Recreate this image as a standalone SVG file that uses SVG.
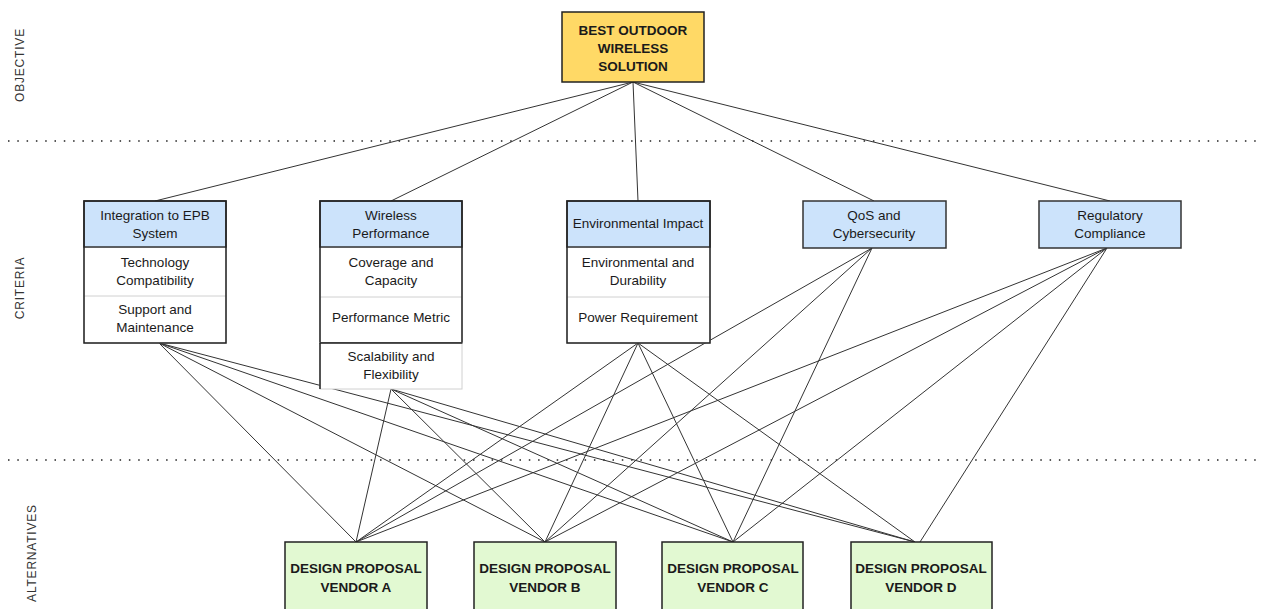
<svg xmlns="http://www.w3.org/2000/svg" width="1263" height="609" viewBox="0 0 1263 609">
<style>
text{font-family:"Liberation Sans",Arial,sans-serif;fill:#1a1a1a;text-anchor:middle}
.c{font-size:13.5px}
.b{font-size:13.5px;font-weight:bold}
.side{font-size:12px;fill:#333;letter-spacing:0.8px}
.sep{stroke:#222;stroke-width:1.3;stroke-dasharray:1.5 7.8;fill:none}
.ln{stroke:#333;stroke-width:1;fill:none}
.obj{fill:#ffd966;stroke:#222;stroke-width:1.5}
.hdr{fill:#cce3fb;stroke:#333;stroke-width:1.5}
.row{fill:#fff;stroke:#d0d0d0;stroke-width:1}
.out{fill:none;stroke:#222;stroke-width:1.5}
.alt{fill:#e2f9d2;stroke:#222;stroke-width:1.5}
</style>
<rect width="1263" height="609" fill="#fff"/>
<g id="separators">
<line class="sep" x1="8" y1="141" x2="1263" y2="141"/>
<line class="sep" x1="8" y1="460" x2="1263" y2="460"/>
</g>
<g id="labels">
<text class="side" transform="translate(24,65) rotate(-90)">OBJECTIVE</text>
<text class="side" transform="translate(24,288) rotate(-90)">CRITERIA</text>
<text class="side" transform="translate(36,553) rotate(-90)">ALTERNATIVES</text>
</g>
<g id="connectors">
<line class="ln" x1="633" y1="82" x2="155" y2="201"/>
<line class="ln" x1="633" y1="82" x2="391" y2="201"/>
<line class="ln" x1="633" y1="82" x2="638" y2="201"/>
<line class="ln" x1="633" y1="82" x2="874" y2="201"/>
<line class="ln" x1="633" y1="82" x2="1110" y2="201"/>
<line class="ln" x1="159" y1="343" x2="356" y2="542"/>
<line class="ln" x1="159" y1="343" x2="545" y2="542"/>
<line class="ln" x1="159" y1="343" x2="733" y2="542"/>
<line class="ln" x1="159" y1="343" x2="915" y2="542"/>
<line class="ln" x1="391" y1="389" x2="356" y2="542"/>
<line class="ln" x1="391" y1="389" x2="545" y2="542"/>
<line class="ln" x1="391" y1="389" x2="733" y2="542"/>
<line class="ln" x1="391" y1="389" x2="915" y2="542"/>
<line class="ln" x1="638" y1="343" x2="356" y2="542"/>
<line class="ln" x1="638" y1="343" x2="545" y2="542"/>
<line class="ln" x1="638" y1="343" x2="733" y2="542"/>
<line class="ln" x1="638" y1="343" x2="915" y2="542"/>
<line class="ln" x1="872" y1="248" x2="356" y2="542"/>
<line class="ln" x1="872" y1="248" x2="545" y2="542"/>
<line class="ln" x1="872" y1="248" x2="733" y2="542"/>
<line class="ln" x1="1107" y1="248" x2="356" y2="542"/>
<line class="ln" x1="1107" y1="248" x2="545" y2="542"/>
<line class="ln" x1="1107" y1="248" x2="733" y2="542"/>
<line class="ln" x1="1107" y1="248" x2="920" y2="542"/>
</g>
<g id="objective">
<rect class="obj" x="562" y="12" width="142" height="70"/>
<text class="b" x="633" y="35">BEST OUTDOOR</text>
<text class="b" x="633" y="53">WIRELESS</text>
<text class="b" x="633" y="71">SOLUTION</text>
</g>
<g id="crit-integration">
<rect class="row" x="84" y="247" width="142" height="96"/>
<line class="row" x1="84" y1="296" x2="226" y2="296"/>
<rect class="hdr" x="84" y="201" width="142" height="46"/>
<rect class="out" x="84" y="201" width="142" height="142"/>
<text class="c" x="155" y="220">Integration to EPB</text>
<text class="c" x="155" y="238">System</text>
<text class="c" x="155" y="267">Technology</text>
<text class="c" x="155" y="285">Compatibility</text>
<text class="c" x="155" y="314">Support and</text>
<text class="c" x="155" y="332">Maintenance</text>
</g>
<g id="crit-wireless">
<rect class="row" x="320" y="247" width="142" height="96"/>
<line class="row" x1="320" y1="297" x2="462" y2="297"/>
<rect class="hdr" x="320" y="201" width="142" height="46"/>
<rect class="out" x="320" y="201" width="142" height="142"/>
<text class="c" x="391" y="220">Wireless</text>
<text class="c" x="391" y="238">Performance</text>
<text class="c" x="391" y="267">Coverage and</text>
<text class="c" x="391" y="285">Capacity</text>
<text class="c" x="391" y="322">Performance Metric</text>
</g>
<g id="crit-scalability">
<rect class="row" x="320" y="343" width="142" height="46"/>
<line x1="320" y1="343" x2="320" y2="389" stroke="#222" stroke-width="1.5"/>
<line x1="320" y1="343" x2="462" y2="343" stroke="#222" stroke-width="1.5"/>
<text class="c" x="391" y="361">Scalability and</text>
<text class="c" x="391" y="379">Flexibility</text>
</g>
<g id="crit-environmental">
<rect class="row" x="567" y="247" width="143" height="96"/>
<line class="row" x1="567" y1="297" x2="710" y2="297"/>
<rect class="hdr" x="567" y="201" width="143" height="46"/>
<rect class="out" x="567" y="201" width="143" height="142"/>
<text class="c" x="638" y="228">Environmental Impact</text>
<text class="c" x="638" y="267">Environmental and</text>
<text class="c" x="638" y="285">Durability</text>
<text class="c" x="638" y="322">Power Requirement</text>
</g>
<g id="crit-qos">
<rect class="hdr" x="803" y="201" width="143" height="47"/>
<text class="c" x="874" y="220">QoS and</text>
<text class="c" x="874" y="238">Cybersecurity</text>
</g>
<g id="crit-regulatory">
<rect class="hdr" x="1039" y="201" width="142" height="47"/>
<text class="c" x="1110" y="220">Regulatory</text>
<text class="c" x="1110" y="238">Compliance</text>
</g>
<g id="alt-a">
<rect class="alt" x="285" y="542" width="142" height="72"/>
<text class="b" x="356" y="573">DESIGN PROPOSAL</text>
<text class="b" x="356" y="592">VENDOR A</text>
</g>
<g id="alt-b">
<rect class="alt" x="474" y="542" width="142" height="72"/>
<text class="b" x="545" y="573">DESIGN PROPOSAL</text>
<text class="b" x="545" y="592">VENDOR B</text>
</g>
<g id="alt-c">
<rect class="alt" x="662" y="542" width="141" height="72"/>
<text class="b" x="733" y="573">DESIGN PROPOSAL</text>
<text class="b" x="733" y="592">VENDOR C</text>
</g>
<g id="alt-d">
<rect class="alt" x="851" y="542" width="141" height="72"/>
<text class="b" x="921" y="573">DESIGN PROPOSAL</text>
<text class="b" x="921" y="592">VENDOR D</text>
</g>
</svg>
